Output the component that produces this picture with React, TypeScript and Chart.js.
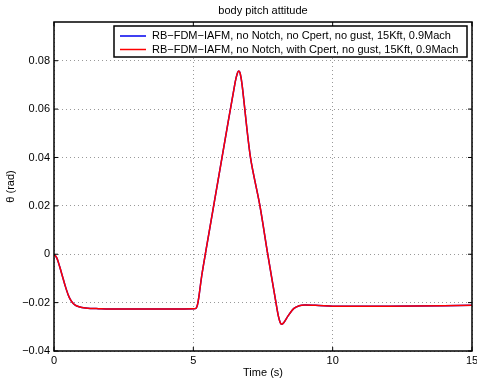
import React, { useEffect, useRef } from "react";
import { Chart, registerables } from "chart.js";

Chart.register(...registerables);

const timeS = [0, 0.1, 0.2, 0.3, 0.4, 0.5, 0.6, 0.7, 0.8, 1.0, 1.3, 1.6, 2, 3, 4, 5.0, 5.1, 5.15, 5.2, 5.3, 5.43, 6.03, 6.5, 6.58, 6.63, 6.68, 6.75, 7.05, 7.39, 7.67, 7.95, 8.05, 8.12, 8.17, 8.25, 8.4, 8.6, 8.8, 9.0, 9.5, 10, 12, 14, 15];
const thetaNoCpert = [0, -0.0015, -0.005, -0.009, -0.013, -0.0165, -0.019, -0.0205, -0.0213, -0.022, -0.0224, -0.0225, -0.0226, -0.0226, -0.0226, -0.0225, -0.0223, -0.0208, -0.0175, -0.009, 0, 0.04, 0.071, 0.0748, 0.0757, 0.0748, 0.07, 0.04, 0.02, 0, -0.019, -0.0255, -0.0283, -0.0289, -0.0282, -0.0255, -0.0225, -0.0213, -0.021, -0.0212, -0.0215, -0.0215, -0.0213, -0.0211];
const thetaWithCpert = [0, -0.0015, -0.005, -0.009, -0.013, -0.0165, -0.019, -0.0205, -0.0213, -0.022, -0.0224, -0.0225, -0.0226, -0.0226, -0.0226, -0.0225, -0.0223, -0.0208, -0.0175, -0.009, 0, 0.04, 0.071, 0.0748, 0.0757, 0.0748, 0.07, 0.04, 0.02, 0, -0.019, -0.0255, -0.0283, -0.0289, -0.0282, -0.0255, -0.0225, -0.0213, -0.021, -0.0212, -0.0215, -0.0215, -0.0213, -0.0211];
const xTicks = [0, 5, 10, 15];
const yTicks = [-0.04, -0.02, 0, 0.02, 0.04, 0.06, 0.08];
const seriesLabels = [
  "RB\u2212FDM\u2212IAFM, no Notch, no Cpert, no gust, 15Kft, 0.9Mach",
  "RB\u2212FDM\u2212IAFM, no Notch, with Cpert, no gust, 15Kft, 0.9Mach",
];
const seriesColors = ["#0000ee", "#ff0000"];
const titleText = "body pitch attitude";
const xLabel = "Time (s)";
const yLabel = "\u03b8 (rad)";

const FONT = "'Liberation Sans', Arial, Helvetica, sans-serif";

const decorPlugin = {
  id: "decor",
  afterDraw(chart: any) {
    const ctx = chart.ctx;
    const a = chart.chartArea;
    ctx.save();
    ctx.strokeStyle = "#000";
    ctx.lineWidth = 1.5;
    ctx.setLineDash([]);
    ctx.strokeRect(a.left, a.top, a.right - a.left, a.bottom - a.top);
    ctx.lineWidth = 1;
    const xs = chart.scales.x;
    const ys = chart.scales.y;
    ctx.beginPath();
    xTicks.forEach((t) => {
      const px = xs.getPixelForValue(t);
      ctx.moveTo(px, a.bottom);
      ctx.lineTo(px, a.bottom - 4);
      ctx.moveTo(px, a.top);
      ctx.lineTo(px, a.top + 4);
    });
    yTicks.forEach((t) => {
      const py = ys.getPixelForValue(t);
      ctx.moveTo(a.left, py);
      ctx.lineTo(a.left + 4, py);
      ctx.moveTo(a.right, py);
      ctx.lineTo(a.right - 4, py);
    });
    ctx.stroke();
    ctx.fillStyle = "#000";
    ctx.font = `11px ${FONT}`;
    ctx.textAlign = "center";
    ctx.textBaseline = "middle";
    ctx.fillText(titleText, (a.left + a.right) / 2, 11);
    ctx.fillText(xLabel, (a.left + a.right) / 2, 373);
    ctx.save();
    ctx.translate(11, (a.top + a.bottom) / 2);
    ctx.rotate(-Math.PI / 2);
    ctx.fillText(yLabel, 0, 0);
    ctx.restore();
    const lx = 114, ly = 26, lw = 353, lh = 31;
    ctx.fillStyle = "#fff";
    ctx.fillRect(lx, ly, lw, lh);
    ctx.strokeStyle = "#000";
    ctx.lineWidth = 1.5;
    ctx.strokeRect(lx, ly, lw, lh);
    ctx.textAlign = "left";
    seriesLabels.forEach((lab, i) => {
      const yy = 36 + i * 13.5;
      ctx.strokeStyle = seriesColors[i];
      ctx.lineWidth = 1.5;
      ctx.beginPath();
      ctx.moveTo(120, yy);
      ctx.lineTo(146, yy);
      ctx.stroke();
      ctx.fillStyle = "#000";
      ctx.fillText(lab, 152, yy);
    });
    ctx.restore();
  },
};

export default function App() {
  const ref = useRef<HTMLCanvasElement | null>(null);
  useEffect(() => {
    document.body.style.margin = "0";
    const canvas = ref.current!;
    const mk = (ys: number[]) => timeS.map((t, i) => ({ x: t, y: ys[i] }));
    const chart = new Chart(canvas, {
      type: "line",
      data: {
        datasets: [
          { label: seriesLabels[0], data: mk(thetaNoCpert), borderColor: seriesColors[0], borderWidth: 1.5, pointRadius: 0, tension: 0.3, fill: false, order: 2 },
          { label: seriesLabels[1], data: mk(thetaWithCpert), borderColor: seriesColors[1], borderWidth: 1.5, pointRadius: 0, tension: 0.3, fill: false, order: 1 },
        ],
      },
      options: {
        animation: false,
        responsive: false,
        maintainAspectRatio: false,
        layout: { padding: { left: 0, top: 22, right: 5, bottom: 0 } },
        plugins: { legend: { display: false }, title: { display: false }, tooltip: { enabled: false } },
        scales: {
          x: {
            type: "linear",
            min: 0,
            max: 15,
            afterBuildTicks: (s: any) => { s.ticks = xTicks.map((v) => ({ value: v })); },
            afterFit: (s: any) => { s.height = 34; s.paddingLeft = 0; s.paddingRight = 0; },
            grid: { color: "#999", lineWidth: 1, drawTicks: false } as any,
            border: { display: false, dash: [1, 3] },
            ticks: { color: "#000", font: { family: FONT, size: 11 }, padding: 3, maxRotation: 0, autoSkip: false },
          },
          y: {
            type: "linear",
            min: -0.04,
            max: 0.096,
            afterBuildTicks: (s: any) => { s.ticks = yTicks.map((v) => ({ value: v })); },
            afterFit: (s: any) => { s.width = 54; s.paddingTop = 0; s.paddingBottom = 0; },
            grid: { color: "#999", lineWidth: 1, drawTicks: false } as any,
            border: { display: false, dash: [1, 3] },
            ticks: {
              color: "#000",
              font: { family: FONT, size: 11 },
              padding: 4,
              callback: (v: any) => {
                const n = Number(v);
                if (Math.abs(n) < 1e-9) return "0";
                return n.toFixed(2).replace("-", "\u2212");
              },
            },
          },
        },
      },
      plugins: [decorPlugin],
    });
    return () => chart.destroy();
  }, []);
  return (
    <div style={{ position: "absolute", left: 0, top: 0, width: 477, height: 385, background: "#fff" }}>
      <canvas ref={ref} width={477} height={385} style={{ width: 477, height: 385 }} />
    </div>
  );
}
